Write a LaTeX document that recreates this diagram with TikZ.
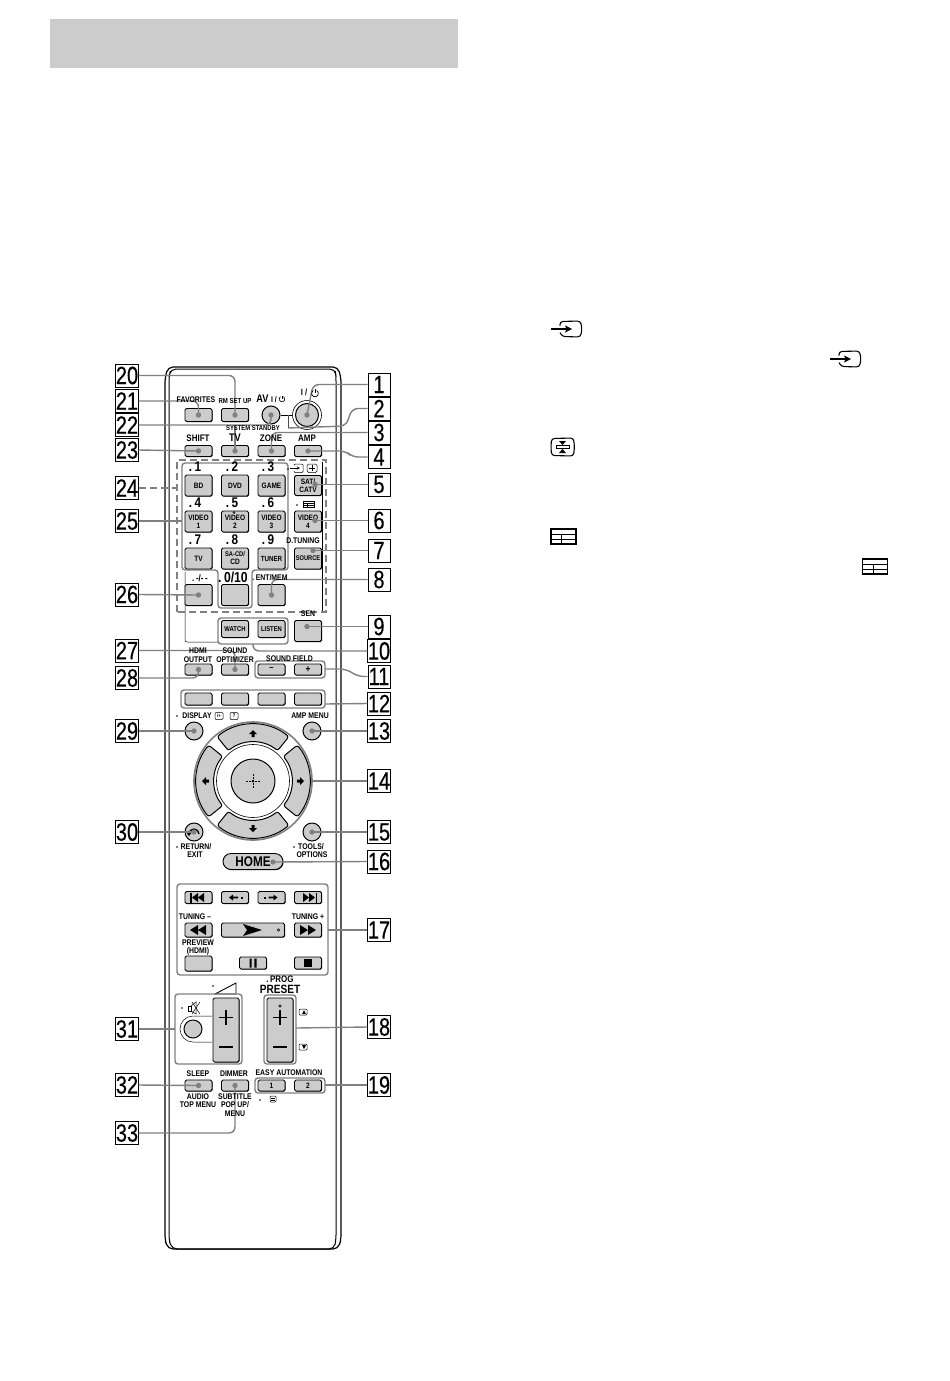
\documentclass[tikz,border=0pt]{standalone}
\usepackage{fontspec}
\setmainfont[FakeStretch=0.84]{Liberation Sans}
\newfontfamily\nrm[FakeStretch=0.80,FakeBold=0.4]{Liberation Sans}
\usetikzlibrary{shadows}
\definecolor{btngray}{gray}{0.80}
\definecolor{conngray}{gray}{0.50}
\tikzset{
  x=1pt,y=-1pt,
  btnbase/.style={draw=black,line width=0.9pt,fill=btngray,rounded corners=1.5pt,inner sep=0pt,align=center,
     font=\bfseries\fontsize{7.8}{8}\selectfont,general shadow={fill=black,shadow xshift=0.5pt,shadow yshift=-0.6pt}},
  btn/.style 2 args={btnbase,minimum width=#1pt,minimum height=#2pt},
  rbtn/.style={circle,draw=black,line width=1pt,fill=btngray,inner sep=0pt,minimum size=#1pt},
  lab/.style={inner sep=0pt,align=center,text=black,font=\bfseries\fontsize{8.2}{8.6}\selectfont},
  labb/.style={inner sep=0pt,align=center,text=black,font=\bfseries\fontsize{#1}{#1}\selectfont},
  callout/.style={draw=black,line width=1pt,fill=white,inner sep=0pt,minimum width=22pt,minimum height=23pt,
     font=\nrm\fontsize{25}{25}\selectfont},
  conn/.style={draw=conngray,line width=1.4pt,rounded corners=6pt},
  grp/.style={draw=conngray,line width=1.4pt,rounded corners=3pt},
  pt1/.style={inner sep=0pt,minimum size=0pt},
  thinl/.style={draw=black,line width=0.5pt},
  icon/.style={draw=black,line width=0.9pt},
}
\newcommand\dotat[1]{\fill[conngray] (#1) circle[radius=2.7pt];}
\newcommand\calloutn[3]{\node[callout] (c#1) at (#2,#3) {#1};}
\newcommand\tvin[2]{%
  \begin{scope}[shift={(#1,#2)}]
  \draw[line width=1.1pt,rounded corners=3pt] (9,-3.5) -- (9,-7.5) -- (29.5,-8) -- (31,0) -- (29.5,8) -- (11,7.5) -- (9,3.5);
  \draw[line width=1.1pt] (0,0) -- (16,0);
  \fill (21,0) -- (14,-3.5) -- (15.5,0) -- (14,3.5) -- cycle;
  \end{scope}}
\newcommand\tablico[4]{%
  \begin{scope}[shift={(#1,#2)}]
  \draw[line width=#4pt] (0,0) rectangle (#3,{#3*0.6});
  \draw[line width=#4*0.7pt] (0,{#3*0.2}) -- (#3,{#3*0.2}) (0,{#3*0.4}) -- (#3,{#3*0.4}) ({#3*0.42},{#3*0.2}) -- ({#3*0.42},{#3*0.6});
  \end{scope}}
\newcommand\sector[2]{%
  \draw[draw=black,line width=1pt,fill=btngray,rounded corners=2.5pt]
    (pad.center) ++(#1:57pt) arc[start angle=#1,end angle=#2,radius=57pt]
    -- ([shift={(#2:39pt)}]pad.center) arc[start angle=#2,end angle=#1,radius=39pt] -- cycle;}
\begin{document}
\begin{tikzpicture}
\useasboundingbox (0,0) rectangle (950,1381);
\fill[white] (0,0) rectangle (950,1381);
\fill[black!20] (50,19) rectangle (458,68);

% remote body
\draw[line width=1.2pt,rounded corners=5pt] (165,378) -- (168,367) -- (338,367) -- (341,378) -- (341,1240) -- (338,1249) -- (168,1249) -- (165,1240) -- cycle;
\draw[line width=1pt,rounded corners=5pt] (169,376) -- (171,369) -- (335,369) -- (336,376) -- (336,1240) -- (334,1249) -- (172,1249) -- (169,1240) -- cycle;
% thin panel lines
\draw[thinl,rounded corners=2pt] (185,572) -- (185,642) -- (219,642);
\draw[thinl] (322,462) -- (322,612);

% top buttons
\node[btn={27}{13}] (fav) at (198.5,415) {};
\node[btn={27}{13}] (rm) at (235,415) {};
\node[rbtn=18] (av) at (271,415) {};
\node[circle,draw=black,line width=0.6pt,fill=white,minimum size=29pt,inner sep=0pt] (pwrring) at (307,415) {};
\node[rbtn=23] (pwr) at (307,415) {};
\node[btn={27}{11}] (shift) at (198.5,451) {};
\node[btn={27}{11}] (tv) at (235,451) {};
\node[btn={27}{11}] (zone) at (271.5,451) {};
\node[btn={27}{11}] (amp) at (308,451) {};
% number pad
\node[btn={27}{21}] (b1) at (198.5,485.5) {BD};
\node[btn={27}{21}] (b2) at (235,485.5) {DVD};
\node[btn={27}{21}] (b3) at (271.5,485.5) {GAME};
\node[btn={27}{20}] (b5) at (308,485.5) {SAT/\\CATV};
\node[btn={27}{21}] (b6) at (198.5,521.5) {VIDEO\\1};
\node[btn={27}{21}] (b7) at (235,521.5) {VIDEO\\2};
\node[btn={27}{21}] (b8) at (271.5,521.5) {VIDEO\\3};
\node[btn={27}{21}] (b9) at (308,521.5) {VIDEO\\4};
\node[btn={27}{21}] (b10) at (198.5,558.5) {TV};
\node[btn={27}{21}] (b11) at (235,558.5) {\fontsize{6.8}{7.6}\selectfont SA-CD/\\CD};
\node[btn={27}{21}] (b12) at (271.5,558.5) {\fontsize{7.4}{8}\selectfont TUNER};
\node[btn={27}{21}] (b13) at (308,558.5) {\fontsize{6.8}{8}\selectfont SOURCE};
\node[btn={27}{21}] (b14) at (198.5,595) {};
\node[btn={27}{21}] (b15) at (235,595) {};
\node[btn={27}{21}] (b16) at (271.5,595) {};
\node[btn={27}{21}] (sen) at (308,631) {};
\node[btn={27}{17}] (watch) at (235,629) {\fontsize{7}{8}\selectfont WATCH};
\node[btn={27}{17}] (listen) at (271.5,629) {\fontsize{7}{8}\selectfont LISTEN};
% row hdmi
\node[btn={27}{11}] (hdmi) at (198.5,669.5) {};
\node[btn={27}{11}] (opt) at (235,669.5) {};
\node[btn={27}{11}] (sfm) at (271.5,669.5) {\fontsize{9}{9}\selectfont --};
\node[btn={27}{11}] (sfp) at (308,669.5) {\fontsize{10}{9}\selectfont +};
% colour row
\node[btn={27}{12}] (k1) at (198.5,699) {};
\node[btn={27}{12}] (k2) at (235,699) {};
\node[btn={27}{12}] (k3) at (271.5,699) {};
\node[btn={27}{12}] (k4) at (308,699) {};
% circles
\node[rbtn=18] (disp) at (194,731) {};
\node[rbtn=18] (ampm) at (312,731) {};
\node[rbtn=18] (ret) at (194,832) {};
\node[rbtn=18] (tools) at (312,832) {};
% pad
\node[circle,draw=conngray,line width=1.6pt,fill=white,minimum size=118pt,inner sep=0pt] (pad) at (253,781) {};
\sector{51}{129}
\sector{141}{219}
\sector{231}{309}
\sector{-39}{39}
\node[circle,draw=black,line width=0.6pt,fill=white,minimum size=73pt,inner sep=0pt] (padin) at (pad) {};
\node[rbtn=44] (ok) at (pad) {};
\fill (pad.center) circle[radius=1.5pt];
\draw[line width=0.4pt,dash pattern=on 2pt off 1pt] (246,781) -- (260,781) (253,774) -- (253,788);
% arrows on the pad
\fill (253,730) -- (257,734) -- (254.5,734) -- (254.5,737) -- (251.5,737) -- (251.5,734) -- (249,734) -- cycle;
\fill (253,832) -- (257,828) -- (254.5,828) -- (254.5,825) -- (251.5,825) -- (251.5,828) -- (249,828) -- cycle;
\fill (202,781) -- (206,777) -- (206,779.5) -- (209,779.5) -- (209,782.5) -- (206,782.5) -- (206,785) -- cycle;
\fill (304,781) -- (300,777) -- (300,779.5) -- (297,779.5) -- (297,782.5) -- (300,782.5) -- (300,785) -- cycle;
% return arrow
\draw[line width=1.3pt] (189,834) arc[start angle=180,end angle=0,radius=5pt];
\fill (186,832) -- (192,832) -- (189,836) -- cycle;

\node[btnbase,minimum width=60pt,minimum height=16pt,rounded corners=8pt,font=\bfseries\fontsize{14}{14}\selectfont] (home) at (253,861.5) {HOME};

% transport
\node[btn={27}{12}] (t1) at (198.5,897.5) {};
\node[btn={27}{12}] (t2) at (235,897.5) {};
\node[btn={27}{12}] (t3) at (271.5,897.5) {};
\node[btn={27}{12}] (t4) at (308,897.5) {};
\node[btn={27}{14}] (t5) at (198.5,930) {};
\node[btn={63}{14}] (t6) at (253,930) {};
\node[btn={27}{14}] (t7) at (308,930) {};
\node[btn={27}{15}] (t8) at (198.5,963.5) {};
\node[btn={27}{12}] (t9) at (253,963) {};
\node[btn={27}{12}] (t10) at (308,963) {};
% transport icons
\fill (190,892.5) rectangle (191.5,902.5);
\fill (192,897.5) -- (198,893) -- (198,902) -- cycle (198,897.5) -- (204,893) -- (204,902) -- cycle;
\fill (317,892.5) rectangle (315.5,902.5);
\fill (315,897.5) -- (309,893) -- (309,902) -- cycle (309,897.5) -- (303,893) -- (303,902) -- cycle;
\fill (229,897.5) -- (233,894.5) -- (233,896.7) -- (238,896.7) -- (238,898.3) -- (233,898.3) -- (233,900.5) -- cycle;
\fill (241,896.5) rectangle (243,898.5);
\fill (277.5,897.5) -- (273.5,894.5) -- (273.5,896.7) -- (268.5,896.7) -- (268.5,898.3) -- (273.5,898.3) -- (273.5,900.5) -- cycle;
\fill (263.5,896.5) rectangle (265.5,898.5);
\fill (190,930) -- (198,925) -- (198,935) -- cycle (198,930) -- (206,925) -- (206,935) -- cycle;
\fill (316,930) -- (308,925) -- (308,935) -- cycle (308,930) -- (300,925) -- (300,935) -- cycle;
\fill (262,930) -- (243,924) -- (247,930) -- (243,936) -- cycle;
\draw[line width=0.5pt] (278.5,930) circle[radius=1.2pt];
\fill (249.5,958.5) rectangle (251.7,967.5) (254.3,958.5) rectangle (256.5,967.5);
\fill (304,959) rectangle (312,967);

% volume
\node[btn={26}{64}] (volp) at (226,1030) {};
\node[btn={26}{64}] (prgp) at (280,1030) {};
\draw[line width=1.1pt] (226,1010) -- (226,1025) (219,1017.5) -- (233,1017.5);
\draw[line width=1.1pt] (219,1047) -- (233,1047);
\draw[line width=1.1pt] (280,1010) -- (280,1025) (273,1017.5) -- (287,1017.5);
\draw[line width=1.1pt] (273,1047) -- (287,1047);
\draw[line width=0.5pt] (280,1006) circle[radius=1.2pt];
\node[rbtn=18] (mute) at (193,1029) {};
\draw[thinl] (212,1016) -- (193,1016) arc[start angle=90,end angle=270,radius=13pt] -- (212,1042);
\draw[line width=0.9pt] (215,994) -- (236,994) -- (236,983) -- cycle;
\fill (213,986) circle[radius=0.9pt];
% bottom
\node[btn={27}{11}] (sleep) at (198.5,1085.5) {};
\node[btn={27}{11}] (dim) at (235,1085.5) {};
\node[btn={27}{11}] (e1) at (271.5,1085.5) {1};
\node[btn={27}{11}] (e2) at (308,1085.5) {2};

% groups
\draw[draw=conngray,line width=1.4pt,dash pattern=on 7pt off 4pt] (177,612) -- (177,460) -- (326,460) -- (326,612) -- cycle;
\draw[grp] (182,570) -- (182,463) -- (288,463) -- (288,570) -- (252,570) -- (252,608) -- (218,608) -- (218,570) -- cycle;
\draw[grp] (218,618) rectangle (288,644);
\draw[grp] (255,661) rectangle (325,678);
\draw[grp] (181,690) rectangle (325,708);
\draw[grp] (177,884) rectangle (328,975);
\draw[grp] (175,994) rectangle (242,1064);
\draw[grp] (264,995) rectangle (296,1064);
\draw[grp] (255,1078) rectangle (325,1093);
\node[pt1] (g25) at (182,521) {};
\node[pt1] (g11) at (325,669) {};
\node[pt1] (g12) at (325,704) {};
\node[pt1] (g17) at (328,930) {};
\node[pt1] (g18) at (296,1028) {};
\node[pt1] (g19) at (325,1085) {};
\node[pt1] (g31) at (175,1029) {};
\node[pt1] (g24w) at (177,488) {};
\node[pt1] (g14) at (312,781) {};
\node[pt1] (h16) at (273,862) {};
\node[pt1] (br) at (288,428) {};
\node[pt1] (g10) at (253,644) {};
\node[pt1] (k1a) at (313,384.5) {};
\node[pt1] (d5) at (315,484.5) {};
\node[pt1] (d6) at (315,520.5) {};
\node[pt1] (d7) at (313,550.5) {};
\node[pt1] (d9) at (307,626.5) {};
\node[pt1] (j22) at (235,425) {};

% bracket between AV and power
\draw[line width=0.7pt,draw=black] (av.east) -- (pwrring.west);
\draw[line width=0.7pt,draw=black!70] (288,415) -- (288,428);

% callouts
\calloutn{1}{379}{384.5}
\calloutn{2}{379}{408.5}
\calloutn{3}{379}{432.5}
\calloutn{4}{379}{457}
\calloutn{5}{379}{484.5}
\calloutn{6}{379}{520.5}
\calloutn{7}{379}{550.5}
\calloutn{8}{379}{579.5}
\calloutn{9}{379}{626.5}
\calloutn{10}{379}{651}
\calloutn{11}{379}{676.5}
\calloutn{12}{379}{703.5}
\calloutn{13}{379}{731}
\calloutn{14}{379}{781}
\calloutn{15}{379}{832}
\calloutn{16}{379}{861.5}
\calloutn{17}{379}{930}
\calloutn{18}{379}{1027}
\calloutn{19}{379}{1085}
\calloutn{20}{127}{375.5}
\calloutn{21}{127}{401}
\calloutn{22}{127}{425}
\calloutn{23}{127}{450}
\calloutn{24}{127}{488}
\calloutn{25}{127}{521}
\calloutn{26}{127}{594.5}
\calloutn{27}{127}{650.5}
\calloutn{28}{127}{678}
\calloutn{29}{127}{731}
\calloutn{30}{127}{832}
\calloutn{31}{127}{1029}
\calloutn{32}{127}{1085}
\calloutn{33}{127}{1133}

% connectors
\draw[conn] (c1.west) -- (k1a.center) -- (pwr.center); \dotat{pwr.center}
\draw[conn] (c2.west) -- (352,408.5) -- (346,426) -- (br.center);
\draw[conn] (c3.west) -| (zone.center); \dotat{zone.center}
\draw[conn] (c4.west) -- (352,457) -- (346,451) -- (amp.center); \dotat{amp.center}
\draw[conn] (c5.west) -- (d5.center); \dotat{d5.center}
\draw[conn] (c6.west) -- (d6.center); \dotat{d6.center}
\draw[conn] (c7.west) -- (d7.center); \dotat{d7.center}
\draw[conn] (c8.west) -| (b16.center); \dotat{b16.center}
\draw[conn] (c9.west) -- (d9.center); \dotat{d9.center}
\draw[conn] (c10.west) -| (g10.center);
\draw[conn] (c11.west) -- (358,676.5) -- (346,669) -- (g11.center);
\draw[conn] (c12.west) -- (g12.center);
\draw[conn] (c13.west) -- (ampm.center); \dotat{ampm.center}
\draw[conn] (c14.west) -- (g14.center);
\draw[conn] (c15.west) -- (tools.center); \dotat{tools.center}
\draw[conn] (c16.west) -- (h16.center); \dotat{h16.center}
\draw[conn] (c17.west) -- (g17.center);
\draw[conn] (c18.west) -- (g18.center);
\draw[conn] (c19.west) -- (g19.center);
\draw[conn] (c20.east) -| (rm.center); \dotat{rm.center}
\draw[conn] (c21.east) -| (fav.center); \dotat{fav.center}
\draw[conn] (c22.east) -| (av.center); \dotat{av.center}
\draw[conn] (j22.center) -- (tv.center); \dotat{tv.center}
\draw[conn] (c23.east) -- (shift.center); \dotat{shift.center}
\draw[conn,dash pattern=on 7pt off 4pt] (c24.east) -- (g24w.center);
\draw[conn] (c25.east) -- (g25.center);
\draw[conn] (c26.east) -- (b14.center); \dotat{b14.center}
\draw[conn] (c27.east) -| (opt.center); \dotat{opt.center}
\draw[conn] (c28.east) -| (hdmi.center); \dotat{hdmi.center}
\draw[conn] (c29.east) -- (disp.center); \dotat{disp.center}
\draw[conn] (c30.east) -- (ret.center); \dotat{ret.center}
\draw[conn] (c31.east) -- (g31.center);
\draw[conn] (c32.east) -- (sleep.center); \dotat{sleep.center}
\draw[conn] (c33.east) -| (dim.center); \dotat{dim.center}

% labels
\node[lab] at (196,400) {FAVORITES};
\node[lab] at (235,401) {\fontsize{7.2}{8}\selectfont RM SET UP};
\node[labb=11] at (262.5,399) {AV};
\node[lab] at (274,399.5) {I /};
\draw[line width=0.6pt] (283.4,396.6) arc[start angle=60,end angle=-240,radius=2.8pt];
\draw[line width=0.6pt] (282,395.5) -- (282,399);
\node[lab] at (304,392.5) {\fontsize{9}{9}\selectfont I /};
\draw[line width=0.7pt] (316.7,390.5) arc[start angle=60,end angle=-240,radius=3.4pt];
\draw[line width=0.7pt] (315,388.5) -- (315,393);
\node[lab] at (253,428) {\fontsize{7}{8}\selectfont SYSTEM STANDBY};
\node[labb=9.5] at (198,438) {SHIFT};
\node[labb=11] at (235,438) {TV};
\node[labb=9.5] at (271,438) {ZONE};
\node[labb=9.5] at (307,438) {AMP};
\foreach \nm/\xx/\yy/\tx in {n1/195/467/1,n2/232/467/2,n3/268/467/3,n4/195/503/4,n5/232/503/5,n6/268/503/6,n7/195/540/7,n8/232/540/8,n9/268/540/9}
  \node[labb=14] (\nm) at (\xx,\yy) {.\,\tx};
\node[labb=14.5] (n0) at (233,577) {.\,0/10};
\node[lab] at (200,578) {\fontsize{9.5}{9}\selectfont .\,-/-\,-};
\node[lab] at (270,578) {.\,ENT/MEM};
\node[lab] at (303,541) {D.TUNING};
\node[lab] at (308,614) {SEN};
\draw[line width=0.4pt] (234,512.5) circle[radius=1pt];
% small icons
\fill (288,469) circle[radius=0.8pt];
\begin{scope}[line width=0.5pt]
\draw[rounded corners=1pt] (294,465.5) -- (294,464) -- (303,464) -- (303,472.5) -- (294,472.5) -- (294,471);
\draw[->,>=stealth] (290,468) -- (300,468);
\draw[rounded corners=1.5pt] (307,464) rectangle (317,472.5);
\draw (309,468) -- (315,468) (312,465) -- (312,471);
\end{scope}
\fill (297,505) circle[radius=0.8pt];
\tablico{303}{501}{11}{0.7}
% text rows
\node[lab] at (198,651) {HDMI};
\node[lab] at (198,659.5) {OUTPUT};
\node[lab] at (235,651) {SOUND};
\node[lab] at (235,659.5) {OPTIMIZER};
\node[lab] at (289.5,659) {SOUND FIELD};
\node[lab] at (197,716) {DISPLAY};
\draw[line width=0.5pt,rounded corners=1pt] (215,712.5) rectangle (223,719.5) (230,712.5) rectangle (238,719.5);
\node[lab] at (219,716) {\fontsize{5}{5}\selectfont i+};
\node[lab] at (234,716) {\fontsize{5.5}{5}\selectfont ?};
\fill (177,716) circle[radius=0.8pt];
\node[lab] at (310,716) {AMP MENU};
\fill (177,847) circle[radius=0.8pt];
\node[lab] at (196,847) {RETURN/};
\node[lab] at (195,855) {EXIT};
\fill (294,847) circle[radius=0.8pt];
\node[lab] at (311,847) {TOOLS/};
\node[lab] at (312,855) {OPTIONS};
\node[lab] at (195,917) {TUNING --};
\node[lab] at (308,917) {TUNING +};
\node[lab] at (198,943) {PREVIEW};
\node[lab] at (198,951) {(HDMI)};
\node[labb=9.5] at (280,979) {.\,PROG};
\node[labb=12] at (280,989) {PRESET};
% mute icon
\fill (182,1008) circle[radius=0.8pt];
\draw[line width=0.5pt] (188,1006) rectangle (191,1011);
\draw[line width=0.5pt] (191,1006) -- (196,1002) -- (196,1014) -- (191,1011);
\draw[line width=0.5pt] (192,1002) -- (200,1014) (200,1002) -- (192,1014);
% preset side icons
\draw[line width=0.5pt,rounded corners=1pt] (299,1009) rectangle (307,1015);
\fill (302,1014) -- (304,1010) -- (306,1014) -- cycle;
\draw[line width=0.5pt,rounded corners=1pt] (299,1044) rectangle (307,1050);
\fill (302,1045) -- (304,1049) -- (306,1045) -- cycle;
\node[lab] at (198,1074) {SLEEP};
\node[lab] at (234,1074) {DIMMER};
\node[lab] at (289,1073) {EASY AUTOMATION};
\node[lab] at (198,1097) {AUDIO};
\node[lab] at (198,1105) {TOP MENU};
\node[lab] at (235,1097) {SUBTITLE};
\node[lab] at (235,1105) {POP UP/};
\node[lab] at (235,1114) {MENU};
\fill (260,1100) circle[radius=0.8pt];
\draw[line width=0.5pt,rounded corners=1pt] (270,1096) rectangle (276,1102);
\draw[line width=0.4pt] (271,1098) -- (275,1098) (271,1100) -- (275,1100);

% right column icons
\tvin{551}{329}
\tvin{830}{359}
\draw[line width=1.1pt,rounded corners=3pt] (551.5,438.5) -- (573.5,438) -- (574.5,447) -- (573.5,456) -- (551.5,455.5) -- (551,447) -- cycle;
\fill (559,441) -- (566,441) -- (562.5,445) -- cycle (559,453) -- (566,453) -- (562.5,449) -- cycle;
\draw[line width=0.7pt] (556,445.5) rectangle (569,448.5);
\tablico{551}{529}{25}{1.2}
\tablico{862.5}{559}{25}{1.2}
\end{tikzpicture}
\end{document}
